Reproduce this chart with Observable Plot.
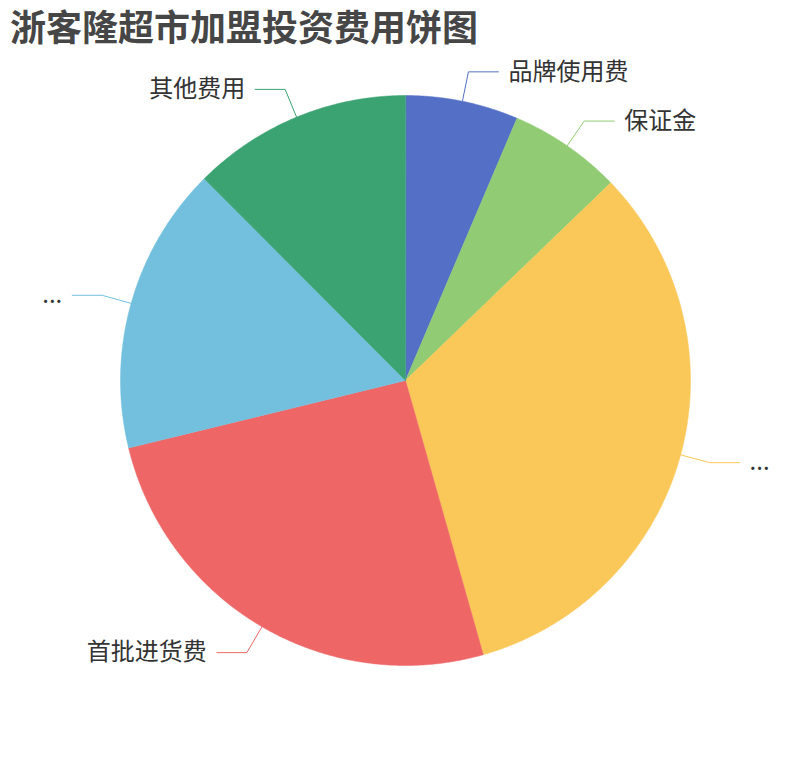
<!DOCTYPE html>
<html><head><meta charset="utf-8">
<script src="https://cdn.jsdelivr.net/npm/d3@7"></script>
<script src="https://cdn.jsdelivr.net/npm/@observablehq/plot@0.6"></script>
<style>
body{margin:0;background:#fff;font-family:"Noto Sans CJK SC","Noto Sans",sans-serif;}
#title{height:50px;line-height:50px;padding-left:10px;font-size:36px;font-weight:bold;color:#464646;white-space:nowrap;}
#chart svg{display:block;}
</style></head><body>
<div id="title">浙客隆超市加盟投资费用饼图</div>
<div id="chart"></div>
<script>
const categories = ["品牌使用费", "保证金", "...", "首批进货费", "...", "其他费用"];
const values = [2, 2, 10.25, 8, 5.1, 3.9];
const colors = ["#5470c6", "#91cc75", "#fac858", "#ee6666", "#73c0de", "#3ba272"];

const W = 810, H = 710, CX = 405, CY = 330, R = 285;
const LEN1 = 30 / R, LEN2 = 30 / R, GAP = 10 / R;

const data = categories.map((c, i) => ({name: c, value: values[i], color: colors[i], i}));
const arcs = d3.pie().sort(null).value(d => d.value)(data);

const slices = arcs.map(a => {
  const n = Math.max(2, Math.ceil((a.endAngle - a.startAngle) / 0.004));
  const pts = [{x: 0, y: 0}];
  for (let k = 0; k <= n; k++) {
    const t = a.startAngle + (a.endAngle - a.startAngle) * k / n;
    pts.push({x: Math.sin(t), y: Math.cos(t)});
  }
  return {color: a.data.color, pts};
});

const labels = arcs.map(a => {
  const m = (a.startAngle + a.endAngle) / 2;
  const s = Math.sin(m), c = Math.cos(m);
  const right = s >= 0;
  const ex = s * (1 + LEN1), ey = c * (1 + LEN1);
  const hx = ex + (right ? LEN2 : -LEN2);
  return {
    name: a.data.name, color: a.data.color, right,
    line: [{x: s, y: c}, {x: ex, y: ey}, {x: hx, y: ey}],
    tx: hx + (right ? GAP : -GAP), ty: ey
  };
});

const plot = Plot.plot({
  width: W, height: H, margin: 0,
  x: {domain: [-CX / R, (W - CX) / R], range: [0, W], axis: null},
  y: {domain: [CY / R, -(H - CY) / R], range: [0, H], axis: null},
  style: {fontFamily: '"Noto Sans CJK SC","Noto Sans",sans-serif', background: "#fff"},
  marks: [
    ...slices.map(s => Plot.line(s.pts, {x: "x", y: "y", curve: "linear-closed", fill: s.color, stroke: s.color, strokeWidth: 0.5})),
    ...labels.map(l => Plot.line(l.line, {x: "x", y: "y", stroke: l.color, strokeWidth: 1})),
    Plot.text(labels.filter(l => l.right), {x: "tx", y: "ty", text: "name", textAnchor: "start", fontSize: 24, fill: "#333"}),
    Plot.text(labels.filter(l => !l.right), {x: "tx", y: "ty", text: "name", textAnchor: "end", fontSize: 24, fill: "#333"})
  ]
});
document.getElementById("chart").appendChild(plot);
</script>
</body></html>
